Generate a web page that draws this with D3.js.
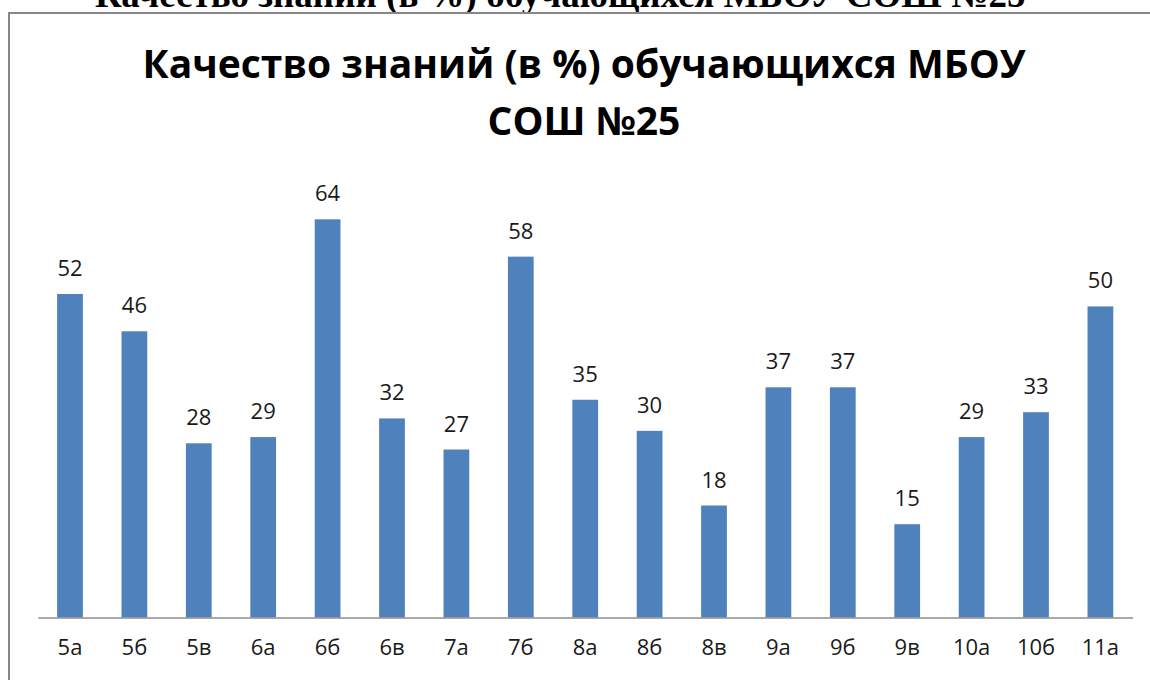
<!DOCTYPE html>
<html>
<head>
<meta charset="utf-8">
<script src="https://cdn.jsdelivr.net/npm/d3@7"></script>
<style>
  body { margin: 0; background: #fff; }
  svg { display: block; }
</style>
</head>
<body>
<svg id="chart" width="1150" height="680"></svg>
<script>
// data
var classes = ["5а", "5б", "5в", "6а", "6б", "6в", "7а", "7б", "8а", "8б", "8в", "9а", "9б", "9в", "10а", "10б", "11а"];
var quality = [52, 46, 28, 29, 64, 32, 27, 58, 35, 30, 18, 37, 37, 15, 29, 33, 50];
var pageHeading = "Качество знаний (в %) обучающихся МБОУ  СОШ №25";
var titleLines = ["Качество знаний (в %) обучающихся МБОУ", "СОШ №25"];

var svg = d3.select("#chart");

// heading of the document above the chart, cut off by the page top
svg.append("text")
    .attr("x", 95)
    .attr("y", 7)
    .attr("font-family", "'Liberation Serif', 'DejaVu Serif', serif")
    .attr("font-weight", "bold")
    .attr("font-size", 37)
    .attr("fill", "#000")
    .text(pageHeading);

// chart frame
svg.append("rect")
    .attr("x", 9)
    .attr("y", 13)
    .attr("width", 1160)
    .attr("height", 700)
    .attr("fill", "#fff")
    .attr("stroke", "#878787")
    .attr("stroke-width", 2);

// title
svg.append("g")
    .selectAll("text")
    .data(titleLines)
    .enter().append("text")
    .attr("x", 584)
    .attr("y", function(d, i) { return 78 + i * 57; })
    .attr("text-anchor", "middle")
    .attr("font-family", "'Open Sans', sans-serif")
    .attr("font-weight", "bold")
    .attr("font-size", 39)
    .attr("fill", "#000")
    .text(function(d) { return d; });

var x = d3.scaleBand()
    .domain(classes)
    .range([37.8, 1132.6])
    .paddingInner(0.6)
    .paddingOuter(0.3);

var y = d3.scaleLinear()
    .domain([0, 70])
    .range([617.5, 182]);

// bars
svg.append("g")
    .selectAll("rect")
    .data(quality)
    .enter().append("rect")
    .attr("x", function(d, i) { return x(classes[i]); })
    .attr("y", function(d) { return y(d); })
    .attr("width", x.bandwidth())
    .attr("height", function(d) { return y(0) - y(d); })
    .attr("fill", "#4f81bd");

// value labels
svg.append("g")
    .selectAll("text")
    .data(quality)
    .enter().append("text")
    .attr("x", function(d, i) { return x(classes[i]) + x.bandwidth() / 2; })
    .attr("y", function(d) { return y(d) - 18; })
    .attr("text-anchor", "middle")
    .attr("font-family", "'Open Sans', sans-serif")
    .attr("font-size", 22)
    .attr("fill", "#1a1a1a")
    .text(function(d) { return d; });

// x axis
var xAxis = svg.append("g")
    .attr("transform", "translate(0," + y(0) + ")")
    .call(d3.axisBottom(x).tickSize(0).tickPadding(22));

xAxis.select(".domain")
    .attr("stroke", "#8c8c8c")
    .attr("stroke-width", 1.5);

xAxis.selectAll("text")
    .attr("font-family", "'Open Sans', sans-serif")
    .attr("font-size", 22)
    .attr("fill", "#1a1a1a");
</script>
</body>
</html>
